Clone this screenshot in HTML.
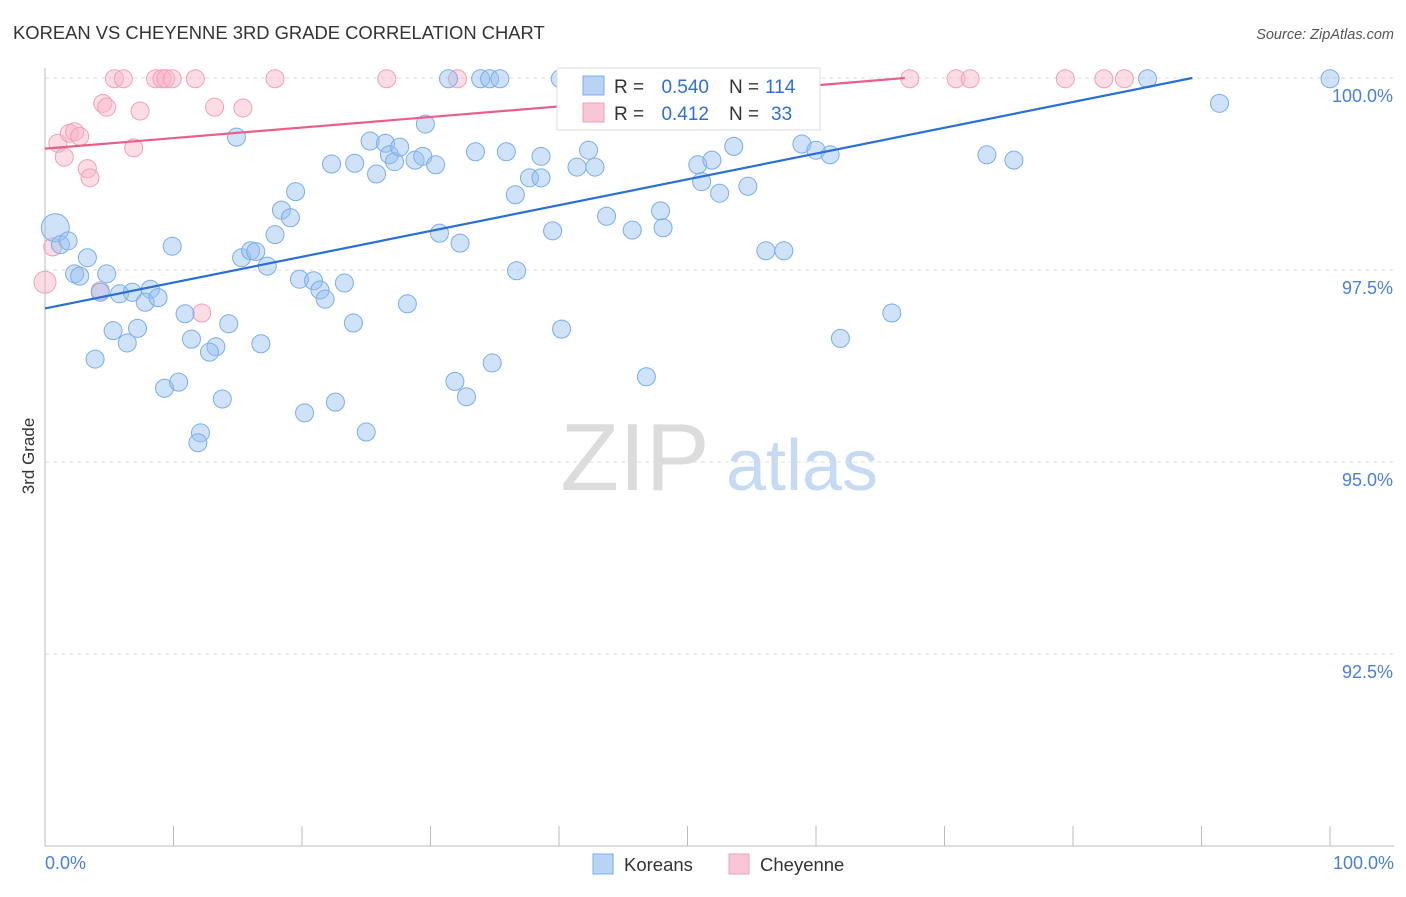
<!DOCTYPE html>
<html><head><meta charset="utf-8"><style>
body{margin:0;background:#fff;font-family:"Liberation Sans",sans-serif}
svg text{font-family:"Liberation Sans",sans-serif}
</style></head><body>
<svg id="chart" width="1406" height="892" xmlns="http://www.w3.org/2000/svg">
<text x="13" y="39" font-size="18.4" fill="#333">KOREAN VS CHEYENNE 3RD GRADE CORRELATION CHART</text>
<text x="1394" y="39" font-size="14.5" fill="#555" text-anchor="end" font-style="italic">Source: ZipAtlas.com</text>
<g>
<text x="635" y="490" font-size="96" fill="#dcdcdc" font-family="Liberation Serif,serif" text-anchor="middle">ZIP</text>
<text x="802" y="490" font-size="72" fill="#c6daf3" text-anchor="middle">atlas</text>
</g>
<g id="grid"></g>
<g id="axes"></g>
<g id="points"></g>
<g id="lines"></g>
<text transform="translate(34,456) rotate(-90)" font-size="17" fill="#333" text-anchor="middle">3rd Grade</text>
<text x="45" y="869" font-size="18" fill="#4a7fd6">0.0%</text>
<text x="1394" y="869" font-size="18" fill="#4a7fd6" text-anchor="end">100.0%</text>
<g>
<rect x="557" y="68" width="263" height="62" fill="#fff" stroke="#ddd"/>
<rect x="583" y="76" width="21" height="19" fill="#b9d3f5" stroke="#7aaee8"/>
<text x="614" y="93" font-size="19" fill="#333">R =</text>
<text x="709" y="93" font-size="19" fill="#2f6fd6" text-anchor="end">0.540</text>
<text x="729" y="93" font-size="19" fill="#333">N =</text>
<text x="765" y="93" font-size="19" fill="#2f6fd6">114</text>
<rect x="583" y="103" width="21" height="19" fill="#f8c6d4" stroke="#f0a0b8"/>
<text x="614" y="120" font-size="19" fill="#333">R =</text>
<text x="709" y="120" font-size="19" fill="#2f6fd6" text-anchor="end">0.412</text>
<text x="729" y="120" font-size="19" fill="#333">N =</text>
<text x="771" y="120" font-size="19" fill="#2f6fd6">33</text>
</g>
<g>
<rect x="593" y="854" width="20" height="20" fill="#b9d3f5" stroke="#7aaee8"/>
<text x="624" y="871" font-size="18.5" fill="#333">Koreans</text>
<rect x="729" y="854" width="20" height="20" fill="#f8c6d4" stroke="#f0a0b8"/>
<text x="760" y="871" font-size="18.5" fill="#333">Cheyenne</text>
</g>
</svg>
<script>
const yTicks=[100,97.5,95,92.5];
const yTickLabels=["100.0%","97.5%","95.0%","92.5%"];
const xTicks=[0,10,20,30,40,50,60,70,80,90,100];
const koreanX=[0.8,1.2,1.8,3.3,2.3,2.7,4.8,4.3,5.8,6.8,8.2,7.8,8.8,5.3,7.2,6.4,3.9,9.9,10.9,11.4,14.3,13.3,12.8,16.8,9.3,10.4,13.8,12.1,11.9,14.9,15.3,16.0,16.4,17.3,17.9,18.4,19.1,19.5,19.8,20.9,21.4,21.8,23.3,24.0,20.2,22.6,25.0,22.3,24.1,25.3,25.8,26.5,26.8,27.2,27.6,28.8,29.4,30.4,29.6,30.7,32.3,33.5,31.9,32.8,34.8,28.2,35.9,36.6,36.7,37.7,38.6,38.6,39.5,40.2,41.4,42.3,42.8,43.7,45.7,46.8,47.9,48.1,50.8,51.1,51.9,52.5,53.6,54.7,56.1,57.5,58.9,60.0,61.1,61.9,65.9,73.3,75.4,91.4,100,85.8,31.4,33.9,34.6,35.4,40.1,40.9,47.1,51.0,58.4];
const koreanY=[98.05,97.83,97.88,97.66,97.45,97.42,97.45,97.21,97.19,97.21,97.25,97.08,97.14,96.71,96.74,96.55,96.34,97.81,96.93,96.60,96.80,96.50,96.43,96.54,95.96,96.04,95.82,95.38,95.25,99.23,97.66,97.75,97.74,97.55,97.96,98.28,98.18,98.52,97.38,97.36,97.24,97.12,97.33,96.81,95.64,95.78,95.39,98.88,98.89,99.18,98.75,99.15,99.0,98.91,99.10,98.93,98.98,98.87,99.40,97.98,97.85,99.04,96.05,95.85,96.29,97.06,99.04,98.48,97.49,98.70,98.70,98.98,98.01,96.73,98.84,99.06,98.84,98.20,98.02,96.11,98.27,98.05,98.87,98.65,98.93,98.50,99.11,98.59,97.75,97.75,99.14,99.06,99.0,96.61,96.94,99.0,98.93,99.67,99.99,99.99,99.99,99.99,99.99,99.99,99.99,99.99,99.99,99.99,99.99];
const cheyenneX=[0,0.6,1.0,1.5,1.9,2.3,2.7,3.3,3.5,4.3,4.5,4.8,6.9,7.4,12.2,13.2,15.4,5.4,6.1,8.6,9.1,9.4,9.9,11.7,17.9,26.6,32.1,67.3,70.9,72.0,79.4,82.4,84.0];
const cheyenneY=[97.34,97.80,99.15,98.97,99.28,99.30,99.24,98.82,98.70,97.23,99.67,99.62,99.09,99.57,96.94,99.62,99.61,99.99,99.99,99.99,99.99,99.99,99.99,99.99,99.99,99.99,99.99,99.99,99.99,99.99,99.99,99.99,99.99];
const koreanFit=[97.0,0.0336];
const cheyenneFit=[99.08,0.01375];

const NS="http://www.w3.org/2000/svg";
const X=v=>45+v*12.85;
const Y=v=>78+(100-v)*76.8;
function mk(tag,attrs,parent){const e=document.createElementNS(NS,tag);for(const k in attrs)e.setAttribute(k,attrs[k]);parent.appendChild(e);return e;}
const grid=document.getElementById('grid'),axes=document.getElementById('axes'),pts=document.getElementById('points'),lines=document.getElementById('lines');
yTicks.forEach((t,i)=>{
 const l=mk('line',{x1:45,x2:1394,y1:Y(t),y2:Y(t),stroke:'#ddd','stroke-dasharray':'4,4'},grid);
 
 
 const tx=mk('text',{x:1393,y:Y(t)+24,'font-size':18,fill:'#4a7fd6','text-anchor':'end'},grid);
 tx.textContent=yTickLabels[i];
 
 
});
const ya=mk('line',{x1:45,x2:45,y1:68,y2:846,stroke:'#bbb'},axes);


const xa=mk('line',{x1:45,x2:1394,y1:846,y2:846,stroke:'#bbb'},axes);


xTicks.forEach(t=>{
 const l=mk('line',{x1:X(t),x2:X(t),y1:826,y2:846,stroke:'#bbb'},axes);
 
 
});
function draw(xs,ys,fill,stroke,name){
 xs.forEach((x,i)=>{
  const r=(i===0)?(name==='korean-point'?14:11):9;
  const c=mk('circle',{cx:X(x),cy:Y(ys[i]),r:r,fill:fill,stroke:stroke,'stroke-width':1},pts);
  
  
 });
}
draw(cheyenneX,cheyenneY,'rgba(248,180,200,0.45)','#f0a0b8','cheyenne-point');
draw(koreanX,koreanY,'rgba(150,190,240,0.45)','#7aaee8','korean-point');
function fit(f,color,name){
 const xe=Math.min(100,(100-f[0])/f[1]);
 const l=mk('line',{x1:X(0),y1:Y(f[0]),x2:X(xe),y2:Y(f[0]+f[1]*xe),stroke:color,'stroke-width':2.2},lines);
 
 
}
fit(koreanFit,'#2a6fd6','korean-trend-line');
fit(cheyenneFit,'#e8608a','cheyenne-trend-line');
</script>
</body></html>
